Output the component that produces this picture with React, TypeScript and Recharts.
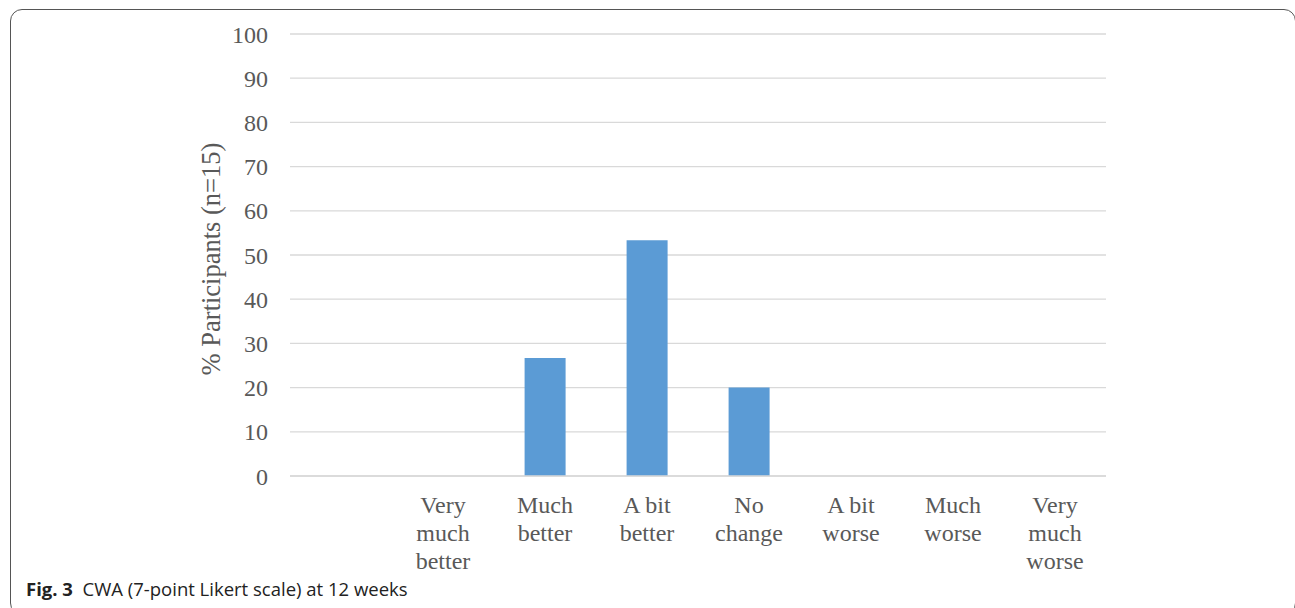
import React from 'react';
import { BarChart, Bar, XAxis, YAxis, CartesianGrid } from 'recharts';

const categories = ['', 'Very much better', 'Much better', 'A bit better', 'No change', 'A bit worse', 'Much worse', 'Very much worse'];
const tickLines: string[][] = [[], ['Very', 'much', 'better'], ['Much', 'better'], ['A bit', 'better'], ['No', 'change'], ['A bit', 'worse'], ['Much', 'worse'], ['Very', 'much', 'worse']];
const percentValues = [null, 0, 26.67, 53.33, 20, 0, 0, 0];
const yTicks = [0, 10, 20, 30, 40, 50, 60, 70, 80, 90, 100];

const data = categories.map((c, i) => ({ name: c, value: percentValues[i], idx: i }));

const SERIF = '"Liberation Serif", "Times New Roman", serif';
const TEXT = '#595959';

const XTick = (props: any) => {
  const { x, y, index } = props;
  const lines = tickLines[index] || [];
  return (
    <g>
      {lines.map((l, i) => (
        <text key={i} x={x} y={y + 37 + i * 28} textAnchor="middle" fill={TEXT} fontFamily={SERIF} fontSize={24}>
          {l}
        </text>
      ))}
    </g>
  );
};

const YLabel = () => (
  <text x={211} y={259} transform="rotate(-90 211 259)" textAnchor="middle" dominantBaseline="central" fill={TEXT} fontFamily={SERIF} fontSize={26.5}>
    % Participants (n=15)
  </text>
);

export default function App() {
  return (
    <div style={{ position: 'fixed', left: 0, top: 0, width: 1295, height: 608, background: '#fff', overflow: 'hidden' }}>
      <div style={{ position: 'absolute', left: 10, top: 9, width: 1286, height: 606, border: '1.5px solid #555', borderRadius: 12, boxSizing: 'border-box' }} />
      <div style={{ position: 'absolute', left: 0, top: 0 }}>
        <BarChart width={1295} height={608} data={data} margin={{ top: 34, right: 189, bottom: 0, left: 210 }} barCategoryGap="30%">
          <CartesianGrid horizontal vertical={false} stroke="#d9d9d9" strokeWidth={1.3} />
          <XAxis dataKey="idx" tick={<XTick />} tickLine={false} axisLine={{ stroke: '#d9d9d9', strokeWidth: 1.3 }} height={132} interval={0} tickSize={0} tickMargin={0} />
          <YAxis domain={[0, 100]} ticks={yTicks} width={80} tickLine={false} axisLine={false} tickSize={0} tickMargin={22} interval={0}
            tick={{ fill: TEXT, fontFamily: SERIF, fontSize: 24 }} label={<YLabel />} />
          <Bar dataKey="value" fill="#5b9bd5" isAnimationActive={false} />
        </BarChart>
      </div>
      <div style={{ position: 'absolute', left: 26, top: 576, fontFamily: '"Open Sans", "Noto Sans", sans-serif', fontSize: 18.5, color: '#222', whiteSpace: 'nowrap' }}>
        <b>Fig. 3</b>&nbsp; CWA (7-point Likert scale) at 12 weeks
      </div>
    </div>
  );
}
